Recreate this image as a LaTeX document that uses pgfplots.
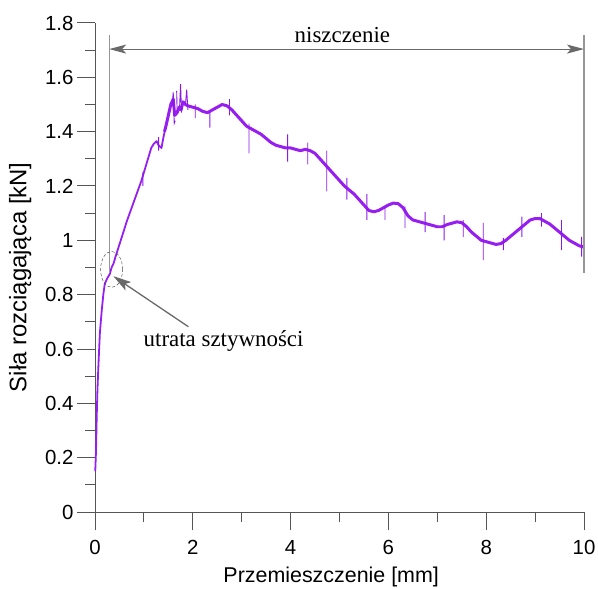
\documentclass[border=0pt]{standalone}
\usepackage{pgfplots}
\pgfplotsset{compat=1.18}
\usepackage{fontspec}
\setmainfont{Liberation Sans}
\newfontfamily\serifA{Liberation Serif}
\usetikzlibrary{arrows.meta}
\definecolor{curve}{RGB}{150,30,240}
\definecolor{spike}{RGB}{140,25,230}
\definecolor{axisgray}{RGB}{85,85,85}
\definecolor{linegray}{RGB}{150,150,150}
\definecolor{arrowgray}{RGB}{105,105,105}
\begin{document}
\begin{tikzpicture}
\useasboundingbox (-95bp,-77bp) rectangle (503bp,512bp);
\begin{axis}[
  scale only axis, width=489bp, height=489bp,
  xmin=0, xmax=10, ymin=0, ymax=1.8,
  axis lines*=left,
  axis line style={axisgray, line width=1pt},
  tick align=outside,
  xtick={0,2,4,6,8,10},
  ytick={0,0.2,0.4,0.6,0.8,1,1.2,1.4,1.6,1.8},
  minor xtick={1,3,5,7,9},
  minor ytick={0.1,0.3,0.5,0.7,0.9,1.1,1.3,1.5,1.7},
  major tick length=18bp, minor tick length=10bp,
  every tick/.style={axisgray, line width=1pt},
  ticklabel style={font=\fontsize{20.5}{24}\selectfont},
  xticklabel style={yshift=-7bp},
  /pgf/number format/assume math mode=true,
  xlabel={Przemieszczenie [mm]},
  ylabel={Siła rozciągająca [kN]},
  xlabel style={font=\fontsize{21.5}{26}\selectfont, at={(axis description cs:0.483,0)}, anchor=base, yshift=-70bp},
  ylabel style={font=\fontsize{24}{28}\selectfont, at={(axis description cs:-0.153,0.48)}, anchor=center},
  clip=false,
]
% rising part
\addplot[curve, line width=1.8pt, line join=round] coordinates {
(0.005,0.15) (0.02,0.22) (0.035,0.35) (0.05,0.45) (0.07,0.54) (0.10,0.66)
(0.137,0.74) (0.17,0.80) (0.20,0.84) (0.25,0.86) (0.30,0.875) (0.34,0.90)
(0.38,0.915) (0.42,0.94) (0.50,0.985) (0.58,1.03) (0.65,1.07) (0.72,1.105)
(0.80,1.145) (0.88,1.185) (0.95,1.22) (1.00,1.25) (1.05,1.28) (1.10,1.31)
(1.15,1.34) (1.20,1.355) (1.26,1.365) (1.30,1.35) (1.36,1.34) (1.40,1.38)
(1.45,1.42)
};
% post-peak band
\addplot[curve, line width=3pt, line join=round] coordinates {
(1.42,1.40) (1.45,1.42) (1.50,1.46) (1.55,1.50) (1.60,1.52) (1.63,1.46)
(1.68,1.47) (1.72,1.49) (1.76,1.48) (1.80,1.51) (1.85,1.50) (1.90,1.495)
(2.00,1.49) (2.10,1.485) (2.20,1.475) (2.30,1.47) (2.40,1.48) (2.50,1.49)
(2.60,1.50) (2.70,1.495) (2.80,1.48) (2.90,1.46) (3.00,1.44) (3.10,1.42)
(3.20,1.41) (3.30,1.40) (3.40,1.39) (3.50,1.375) (3.60,1.36) (3.70,1.35)
(3.80,1.345) (3.90,1.34) (4.00,1.34) (4.10,1.335) (4.20,1.33) (4.30,1.335)
(4.40,1.33) (4.50,1.32) (4.60,1.30) (4.70,1.28) (4.80,1.26) (4.90,1.24)
(5.00,1.22) (5.10,1.20) (5.20,1.185) (5.30,1.17) (5.40,1.15) (5.50,1.13)
(5.60,1.11) (5.70,1.105) (5.80,1.11) (5.90,1.12) (6.00,1.13) (6.10,1.137)
(6.20,1.135) (6.30,1.12) (6.40,1.09) (6.50,1.075) (6.60,1.07) (6.70,1.065)
(6.80,1.06) (6.90,1.055) (7.00,1.05) (7.10,1.05) (7.20,1.058) (7.30,1.063)
(7.40,1.068) (7.50,1.065) (7.60,1.05) (7.70,1.03) (7.80,1.015) (7.90,1.00)
(8.00,0.995) (8.10,0.99) (8.20,0.985) (8.30,0.988) (8.40,1.00) (8.50,1.015)
(8.60,1.03) (8.70,1.045) (8.80,1.06) (8.90,1.075) (9.00,1.08) (9.10,1.08)
(9.20,1.07) (9.30,1.06) (9.40,1.045) (9.50,1.03) (9.60,1.015) (9.70,1.00)
(9.80,0.99) (9.90,0.98) (10.0,0.975)
};
% spikes (measured excursions)
\addplot[spike, line width=0.9pt, unbounded coords=jump] coordinates {
(1.58,1.50) (1.60,1.545) (1.62,1.43) (1.64,1.44) (1.64,nan)
(1.73,1.49) (1.75,1.575) (1.77,1.47) (1.77,nan)
(1.85,1.50) (1.875,1.555) (1.90,1.48) (1.90,nan)
(1.67,1.55) (1.68,1.47) (1.68,nan)
(2.35,1.47) (2.35,1.415) (2.35,nan)
(2.05,1.50) (2.05,1.45) (2.05,nan)
(2.75,1.52) (2.75,1.46) (2.75,nan)
(3.15,1.43) (3.15,1.32) (3.15,nan)
(3.94,1.39) (3.94,1.29) (3.94,nan)
(4.35,1.36) (4.35,1.28) (4.35,nan)
(4.74,1.33) (4.74,1.18) (4.74,nan)
(5.15,1.23) (5.15,1.15) (5.15,nan)
(5.56,1.17) (5.56,1.075) (5.56,nan)
(5.93,1.125) (5.93,1.075) (5.93,nan)
(6.34,1.125) (6.34,1.045) (6.34,nan)
(6.75,1.105) (6.75,1.03) (6.75,nan)
(7.14,1.093) (7.14,1.00) (7.14,nan)
(7.53,1.075) (7.53,1.013) (7.53,nan)
(7.94,1.064) (7.94,0.927) (7.94,nan)
(8.35,1.008) (8.35,0.964) (8.35,nan)
(8.73,1.087) (8.73,1.013) (8.73,nan)
(9.13,1.10) (9.13,1.05) (9.13,nan)
(9.54,1.075) (9.54,0.964) (9.54,nan)
(9.95,1.013) (9.95,0.94) (9.95,nan)
(1.30,1.38) (1.30,1.33) (1.30,nan)
(0.98,1.25) (0.98,1.20) (0.98,nan)
};
% annotations
\draw[linegray, line width=1.1pt] (axis cs:0.29,0.88) -- (axis cs:0.29,1.755);
\draw[linegray, line width=1.1pt] (axis cs:10,0.88) -- (axis cs:10,1.755);
\draw[arrowgray, line width=1.1pt, {Stealth[length=17bp,width=9bp,inset=4bp]}-{Stealth[length=17bp,width=9bp,inset=4bp]}]
  (axis cs:0.29,1.704) -- (axis cs:10,1.704);
\node[anchor=base, inner sep=0pt, font=\serifA\fontsize{23}{28}\selectfont] at (axis cs:5.06,1.727) {niszczenie};
\draw[black!70, densely dashed, line width=0.5pt] (axis cs:0.34,0.893) ellipse [x radius=11bp, y radius=18bp];
\draw[arrowgray, line width=1.3pt, -{Stealth[length=18bp,width=10bp,inset=4bp]}]
  (axis cs:1.91,0.682) -- (axis cs:0.375,0.868);
\node[anchor=base, inner sep=0pt, font=\serifA\fontsize{23}{28}\selectfont] at (axis cs:2.63,0.608) {utrata sztywności};
\end{axis}
\end{tikzpicture}
\end{document}
